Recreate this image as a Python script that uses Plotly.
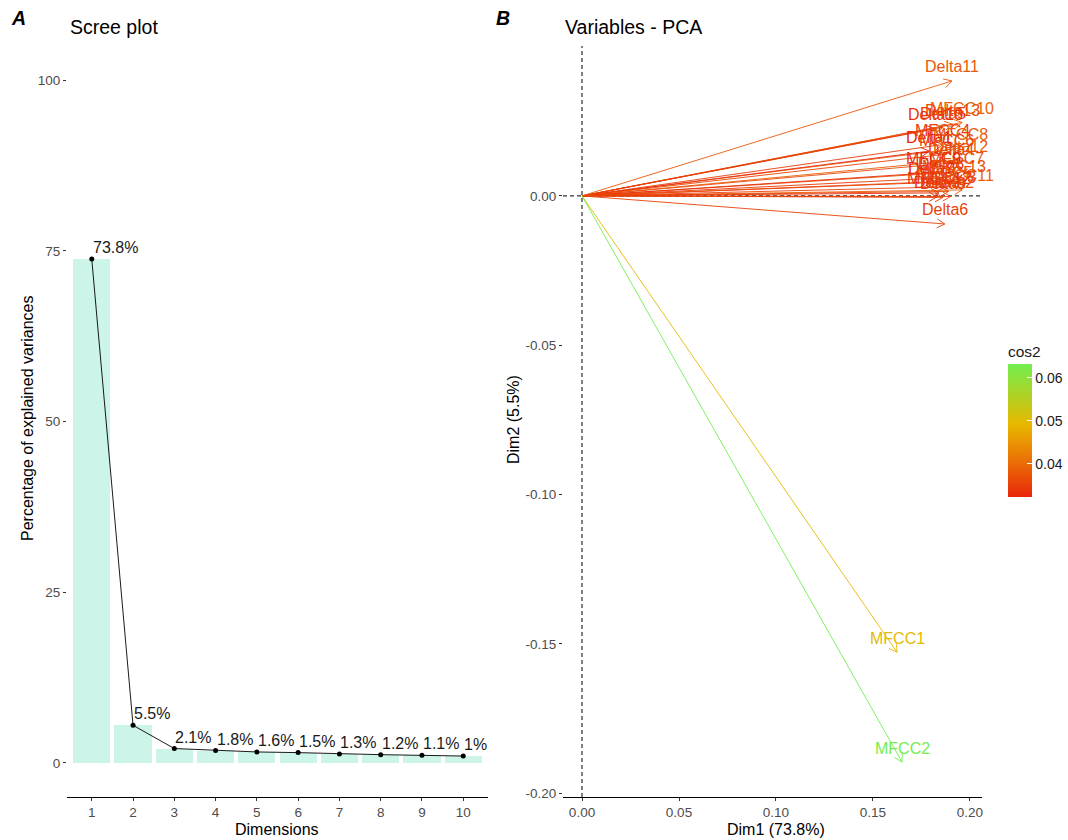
import math
import plotly.graph_objects as go
from plotly.colors import sample_colorscale

# ---- Scree plot data ----
dims = list(range(1, 11))
explained = [73.8, 5.5, 2.1, 1.8, 1.6, 1.5, 1.3, 1.2, 1.1, 1.0]
scree_labels = [f"{v:g}%" for v in explained]
scree_ticks = [0, 25, 50, 75, 100]

# ---- Variable coordinates on Dim1 / Dim2 ----
var_names = [
    "MFCC10", "Delta13", "Delta10", "Delta5", "MFCC4", "MFCC8", "Delta1",
    "MFCC6", "Delta12", "Delta4", "MFCC7", "MFCC9", "Delta8", "Delta7",
    "MFCC11", "MFCC3", "MFCC12", "Delta3", "Delta9", "Delta2", "MFCC5",
    "MFCC13", "Delta11", "Delta6", "MFCC1", "MFCC2",
]
dim1 = [
    0.1960, 0.1910, 0.1820, 0.1860, 0.1860, 0.1950, 0.1790,
    0.1880, 0.1950, 0.1900, 0.1930, 0.1810, 0.1850, 0.1800,
    0.1960, 0.1890, 0.1840, 0.1830, 0.1860, 0.1900, 0.1870,
    0.1920, 0.1907, 0.1870, 0.1624, 0.1650,
]
dim2 = [
    0.0246, 0.0240, 0.0225, 0.0230, 0.0172, 0.0160, 0.0150,
    0.0140, 0.0120, 0.0110, 0.0080, 0.0078, 0.0060, 0.0045,
    0.0020, 0.0015, 0.0010, -0.0003, -0.0005, -0.0002, 0.0030,
    0.0050, 0.0385, -0.0094, -0.1528, -0.1896,
]
b_xticks = [0.0, 0.05, 0.10, 0.15, 0.20]
b_yticks = [-0.20, -0.15, -0.10, -0.05, 0.0]

# quality of representation on the Dim1-Dim2 plane
cos2 = [a * a + b * b for a, b in zip(dim1, dim2)]
cmin, cmax = min(cos2), max(cos2)
cos2_scale = [[0.0, "#E8260A"], [0.27, "#EB7005"], [0.55, "#E7B800"], [1.0, "#72EE4E"]]
var_colors = sample_colorscale(cos2_scale, [(c - cmin) / (cmax - cmin) for c in cos2])

# ---- Layout geometry ----
W, H = 1068, 840
FONT = "Liberation Sans, Arial, sans-serif"
a_px = (67, 488)
b_px = (563, 982)
top_px, bot_px = 46, 797
dom_y = [(H - bot_px) / H, (H - top_px) / H]
a_xrange = [0.4, 10.6]
a_yrange = [-5, 105]
b_xrange = [-0.0098, 0.2062]
b_yrange = [-0.2013, 0.0502]

sx = (b_px[1] - b_px[0]) / (b_xrange[1] - b_xrange[0])
sy = (bot_px - top_px) / (b_yrange[1] - b_yrange[0])

fig = go.Figure()

# Scree bars, line and labels
fig.add_trace(go.Bar(
    x=dims, y=explained, width=0.9, marker=dict(color="#CCF4E8", line=dict(width=0)),
    xaxis="x", yaxis="y", hoverinfo="skip", showlegend=False,
))
fig.add_trace(go.Scatter(
    x=dims, y=explained, mode="lines+markers",
    line=dict(color="black", width=0.9), marker=dict(color="black", size=5),
    xaxis="x", yaxis="y", hoverinfo="skip", showlegend=False,
))
for d, v, lab in zip(dims, explained, scree_labels):
    fig.add_annotation(x=d, y=v, xref="x", yref="y", text=lab, showarrow=False,
                       xanchor="left", yanchor="bottom", xshift=-1, yshift=1,
                       font=dict(size=16, color="#1A1A1A", family=FONT))

# Variable arrows with open heads
head_len, head_ang = 9.0, math.radians(30)
for name, x, y, col in zip(var_names, dim1, dim2, var_colors):
    ang = math.atan2(y * sy, x * sx)
    wx, wy = [], []
    for s in (1, -1):
        a = ang + s * head_ang
        wx.append(x - head_len * math.cos(a) / sx)
        wy.append(y - head_len * math.sin(a) / sy)
    fig.add_trace(go.Scatter(
        x=[0, x, None, wx[0], x, wx[1]], y=[0, y, None, wy[0], y, wy[1]],
        mode="lines", line=dict(color=col, width=0.9),
        xaxis="x2", yaxis="y2", hoverinfo="skip", showlegend=False,
    ))
    fig.add_annotation(x=x, y=y, xref="x2", yref="y2", text=name, showarrow=False,
                       xanchor="center", yanchor="middle", yshift=14,
                       font=dict(size=16, color=col, family=FONT))

# cos2 colour bar (invisible markers carry the scale)
fig.add_trace(go.Scatter(
    x=dim1, y=dim2, mode="markers",
    marker=dict(size=1, opacity=0, color=cos2, colorscale=cos2_scale, cmin=cmin, cmax=cmax,
                showscale=True,
                colorbar=dict(
                    title=dict(text="cos2", side="top", font=dict(size=15.5, color="#1A1A1A", family=FONT)),
                    x=1008 / W, xanchor="left", xpad=0, ypad=0,
                    y=(H - 497) / H, yanchor="bottom",
                    thickness=24, len=(497 - 342) / H, lenmode="fraction", outlinewidth=0,
                    tickvals=[0.04, 0.05, 0.06], ticktext=["0.04", "0.05", "0.06"],
                    ticks="inside", ticklen=5, tickcolor="white", tickwidth=1,
                    tickfont=dict(size=14, color="#1A1A1A", family=FONT),
                )),
    xaxis="x2", yaxis="y2", hoverinfo="skip", showlegend=False,
))

tick_font = dict(size=13.5, color="#4D4D4D", family=FONT)
common = dict(showgrid=False, zeroline=False, ticks="outside", ticklen=3,
              tickcolor="#333333", tickfont=tick_font)

fig.update_layout(
    width=W, height=H, margin=dict(l=0, r=0, t=0, b=0, autoexpand=False),
    paper_bgcolor="white", plot_bgcolor="white",
    font=dict(family=FONT, color="black"),
    bargap=0,
    xaxis=dict(domain=[a_px[0] / W, a_px[1] / W], range=a_xrange, anchor="y",
               tickvals=dims, showline=True, linecolor="black", linewidth=1, **common),
    yaxis=dict(domain=dom_y, range=a_yrange, anchor="x", tickvals=scree_ticks,
               showline=False, **common),
    xaxis2=dict(domain=[b_px[0] / W, b_px[1] / W], range=b_xrange, anchor="y2",
                tickvals=b_xticks, ticktext=[f"{v:.2f}" for v in b_xticks],
                showline=True, linecolor="black", linewidth=1, **common),
    yaxis2=dict(domain=dom_y, range=b_yrange, anchor="x2",
                tickvals=b_yticks, ticktext=[f"{v:.2f}".replace("-0.00", "0.00") for v in b_yticks],
                showline=False, **common),
    shapes=[
        dict(type="line", xref="x2", yref="y2 domain", x0=0, x1=0, y0=0, y1=1,
             line=dict(color="black", width=1, dash="4px,3px"), layer="below"),
        dict(type="line", xref="x2 domain", yref="y2", x0=0, x1=1, y0=0, y1=0,
             line=dict(color="black", width=1, dash="4px,3px"), layer="below"),
    ],
)

def note(text, x, y, size, **kw):
    fig.add_annotation(text=text, xref="paper", yref="paper", x=x / W, y=(H - y) / H,
                       showarrow=False, font=dict(size=size, color="black", family=FONT), **kw)

note("<b><i>A</i></b>", 18, 18, 19.5, xanchor="center", yanchor="middle")
note("<b><i>B</i></b>", 503, 18, 19.5, xanchor="center", yanchor="middle")
note("Scree plot", 68, 27, 19.5, xanchor="left", yanchor="middle")
note("Variables - PCA", 563, 27, 19.5, xanchor="left", yanchor="middle")
note("Dimensions", 277, 829, 16, xanchor="center", yanchor="middle")
note("Dim1 (73.8%)", 776, 829, 16, xanchor="center", yanchor="middle")
note("Percentage of explained variances", 27, 418, 16, xanchor="center", yanchor="middle", textangle=-90)
note("Dim2 (5.5%)", 513, 420, 16, xanchor="center", yanchor="middle", textangle=-90)

fig.write_html("out.html")
